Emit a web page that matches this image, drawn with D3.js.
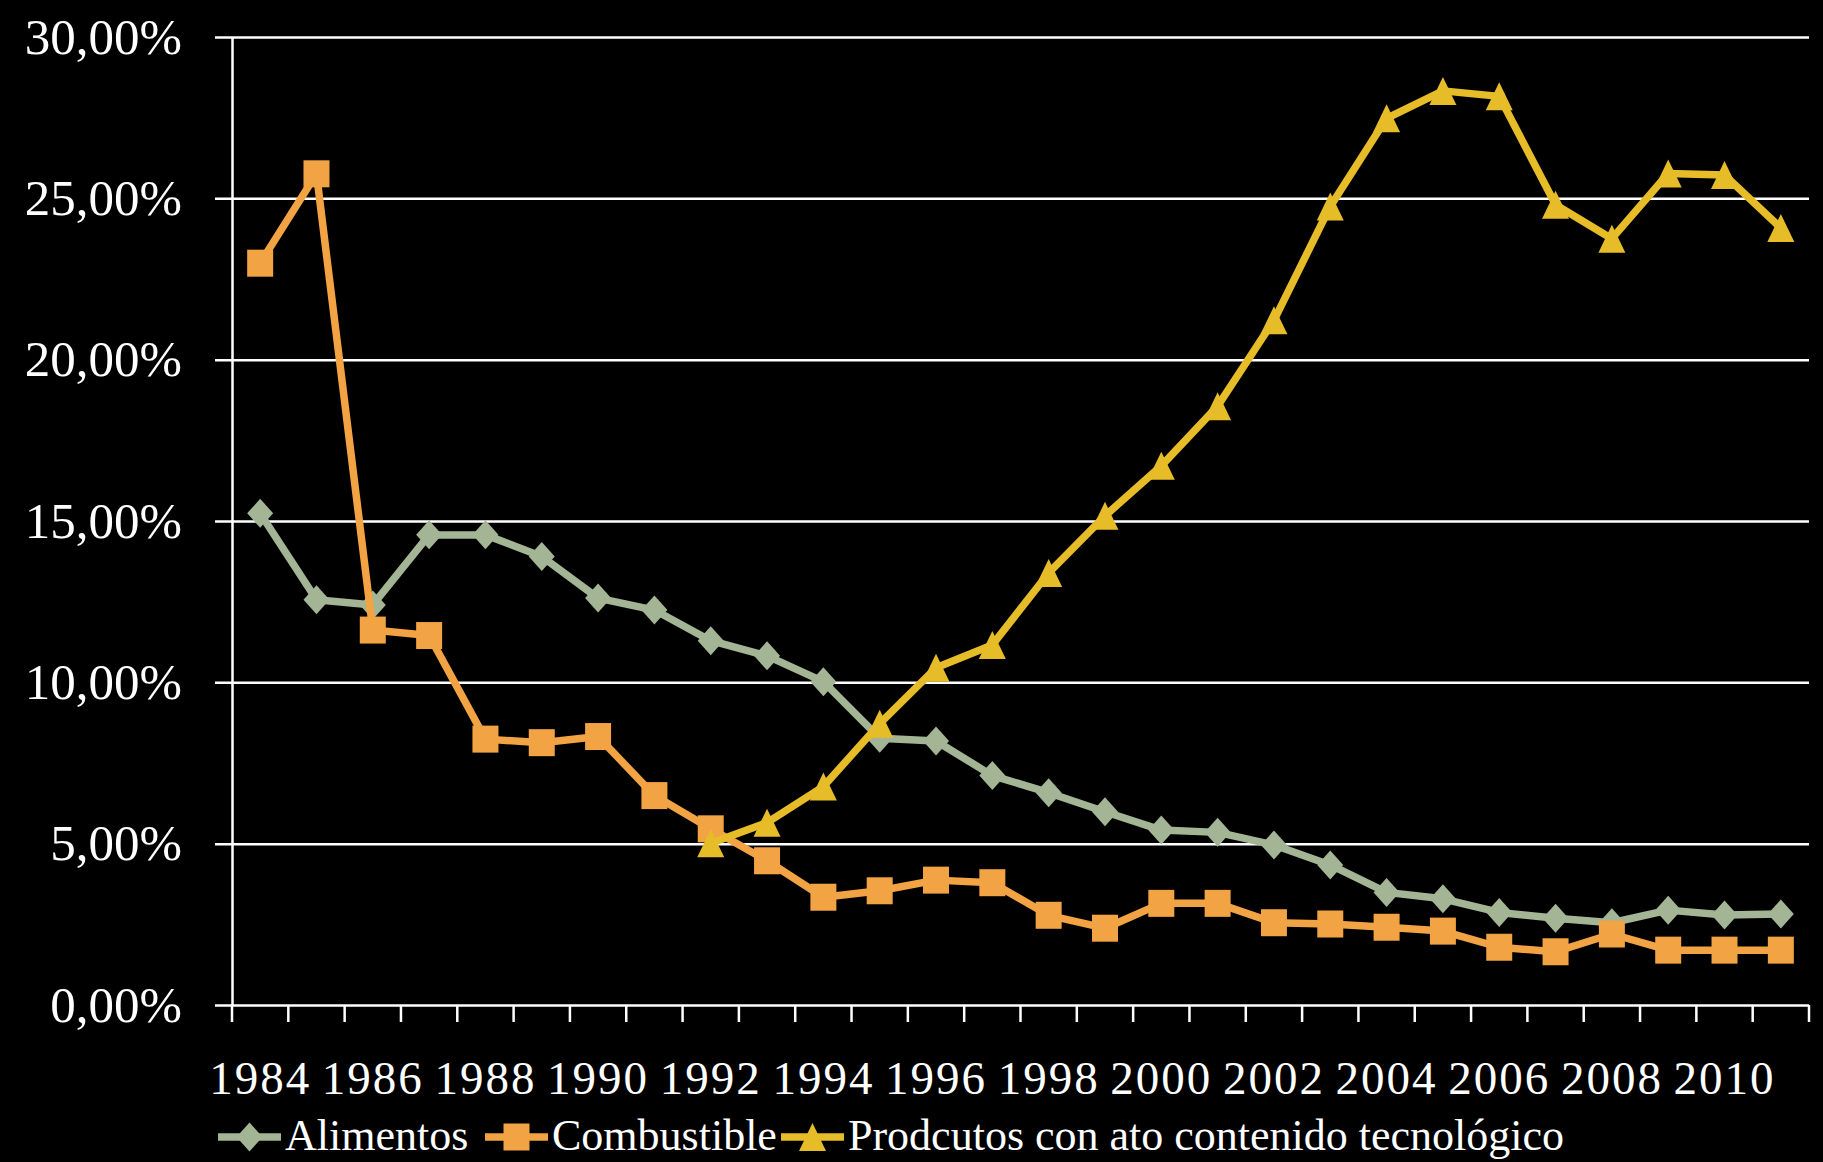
<!DOCTYPE html>
<html lang="es">
<head>
  <meta charset="UTF-8">
  <title>Exportaciones</title>
  <script src="https://d3js.org/d3.v7.min.js"></script>
  <style>
    html, body { margin: 0; padding: 0; background: #000; }
    text { font-family: "Liberation Serif", "DejaVu Serif", serif; fill: #fff; }
  </style>
</head>
<body>
  <div id="root"></div>
  <script>
    // datos (porcentaje)
    const years = d3.range(1984, 2012)
    const alimentos = [15.24, 12.56, 12.40, 14.57, 14.57, 13.90, 12.61, 12.24, 11.29, 10.82,
      10.02, 8.27, 8.18, 7.11, 6.58, 5.99, 5.42, 5.35, 4.96, 4.34,
      3.49, 3.29, 2.87, 2.69, 2.55, 2.94, 2.79, 2.82]
    const combustible = [22.99, 25.76, 11.62, 11.45, 8.24, 8.13, 8.32, 6.49, 5.46, 4.47,
      3.34, 3.54, 3.87, 3.79, 2.78, 2.38, 3.15, 3.15, 2.55, 2.51,
      2.41, 2.29, 1.79, 1.65, 2.20, 1.70, 1.70, 1.70]
    const tecnologia = [null, null, null, null, null, null, null, null, 5.01, 5.65,
      6.77, 8.72, 10.45, 11.16, 13.39, 15.16, 16.71, 18.56, 21.22, 24.75,
      27.48, 28.33, 28.16, 24.80, 23.75, 25.77, 25.72, 24.08]
    const yTicks = [0, 5, 10, 15, 20, 25, 30]
    const labelYears = years.filter(y => (y - 1984) % 2 === 0)
    const seriesNames = ['Alimentos', 'Combustible', 'Prodcutos con ato contenido tecnológico']

    const W = 1823, H = 1162
    const mLeft = 232, mRight = 1809, mTop = 37, mBottom = 1005

    const svg = d3.select('#root')
      .append('svg')
      .attr('width', W)
      .attr('height', H)
      .style('background', '#000')
      .style('display', 'block')

    const x = d3.scaleBand().domain(years).range([mLeft, mRight])
    const y = d3.scaleLinear().domain([0, 30]).range([mBottom, mTop])

    const fmt = v => d3.format('.2f')(v).replace('.', ',') + '%'

    // eje y con lineas de division
    const yAxis = svg.append('g')
      .attr('transform', `translate(${mLeft},0)`)
      .call(d3.axisLeft(y).tickValues(yTicks).tickFormat(fmt)
        .tickSizeInner(-(mRight - mLeft)).tickSizeOuter(0).tickPadding(50))
    yAxis.select('.domain').attr('stroke', '#fff').attr('stroke-width', 2.5)
    yAxis.selectAll('.tick line')
      .attr('x1', -17)
      .attr('stroke', '#fff')
      .attr('stroke-width', 2.5)
    yAxis.selectAll('.tick text')
      .attr('font-size', 51)
      .attr('dy', 16)
      .attr('fill', '#fff')

    // eje x: marcas entre categorias y etiquetas cada dos anos
    const xAxis = svg.append('g')
      .attr('transform', `translate(0,${mBottom})`)
      .call(d3.axisBottom(x).tickValues(labelYears).tickSize(0).tickPadding(56))
    xAxis.select('.domain').remove()
    xAxis.selectAll('.tick text')
      .attr('font-size', 47)
      .attr('letter-spacing', 2)
      .attr('fill', '#fff')

    const bounds = years.map(d => x(d)).concat([x(years[years.length - 1]) + x.bandwidth()])
    svg.append('g').selectAll('line')
      .data(bounds)
      .join('line')
      .attr('x1', d => d).attr('x2', d => d)
      .attr('y1', mBottom).attr('y2', mBottom + 17)
      .attr('stroke', '#fff')
      .attr('stroke-width', 2.5)

    // marcadores
    const diamond = {
      draw(ctx, size) {
        ctx.moveTo(0, -14.5); ctx.lineTo(13, 0); ctx.lineTo(0, 14.5); ctx.lineTo(-13, 0); ctx.closePath()
      }
    }
    const square = {
      draw(ctx, size) {
        ctx.moveTo(-13, -13.5); ctx.lineTo(13, -13.5); ctx.lineTo(13, 13.5); ctx.lineTo(-13, 13.5); ctx.closePath()
      }
    }
    const triangle = {
      draw(ctx, size) {
        ctx.moveTo(0, -14); ctx.lineTo(13.5, 14); ctx.lineTo(-13.5, 14); ctx.closePath()
      }
    }

    const series = [
      { name: seriesNames[0], values: alimentos, color: '#a3b594', symbol: diamond },
      { name: seriesNames[1], values: combustible, color: '#f2a343', symbol: square },
      { name: seriesNames[2], values: tecnologia, color: '#e6bc28', symbol: triangle }
    ]

    const cx = i => x(years[i]) + x.bandwidth() / 2
    const line = d3.line()
      .defined(d => d != null)
      .x((d, i) => cx(i))
      .y(d => y(d))

    series.forEach(s => {
      const g = svg.append('g')
      g.append('path')
        .attr('d', line(s.values))
        .attr('fill', 'none')
        .attr('stroke', s.color)
        .attr('stroke-width', 7.5)
        .attr('stroke-linejoin', 'round')
      g.selectAll('path.m')
        .data(s.values.map((v, i) => ({ v, i })).filter(d => d.v != null))
        .join('path')
        .attr('class', 'm')
        .attr('d', d3.symbol(s.symbol))
        .attr('transform', d => `translate(${cx(d.i)},${y(d.v)})`)
        .attr('fill', s.color)
    })

    // leyenda
    const legendX = [218, 485, 781]
    const legend = svg.append('g')
    series.forEach((s, i) => {
      const g = legend.append('g').attr('transform', `translate(${legendX[i]},1137)`)
      g.append('line')
        .attr('x1', 0).attr('x2', 63)
        .attr('stroke', s.color)
        .attr('stroke-width', 7.5)
      g.append('path')
        .attr('d', d3.symbol(s.symbol)())
        .attr('transform', 'translate(31.5,0)')
        .attr('fill', s.color)
      g.append('text')
        .attr('x', 67)
        .attr('y', 13)
        .attr('font-size', 44)
        .text(s.name)
    })
  </script>
</body>
</html>
